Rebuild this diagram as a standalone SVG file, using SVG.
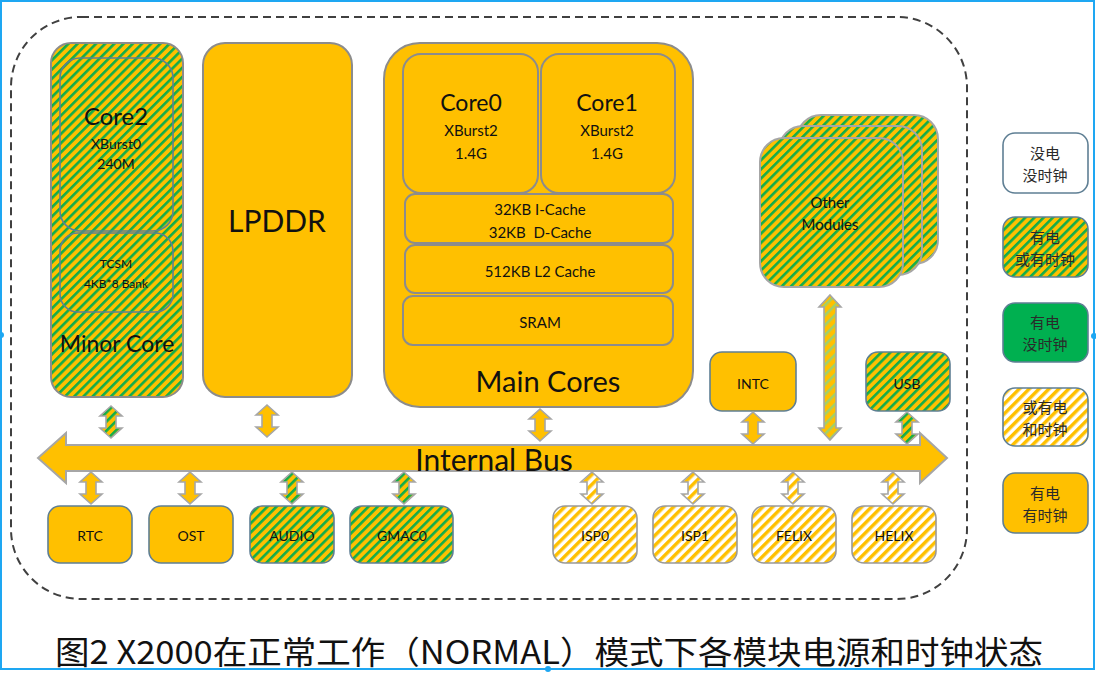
<svg xmlns="http://www.w3.org/2000/svg" xmlns:xlink="http://www.w3.org/1999/xlink" width="1096" height="673" viewBox="0 0 1096 673">
<defs>
<style>
text{font-family:Lato,"Open Sans","Noto Sans CJK SC",sans-serif;fill:#111;text-anchor:middle;dominant-baseline:central}
.cjk{font-family:"Noto Sans CJK SC","Noto Sans",sans-serif;fill:#2a2a2a;font-size:15px}
.bx{stroke:#5f7f94;stroke-width:1.6}
.gbx{stroke:#8c8c8c;stroke-width:2}
.y{fill:#FFC000}
.gy{fill:url(#gy)}
.wy{fill:url(#wy)}
.arr{stroke:#a6a6a6;stroke-width:1.6}
.s14{font-size:14px}
.s15{font-size:15px}
</style>
<pattern id="gy" patternUnits="userSpaceOnUse" width="6.5" height="6.5" patternTransform="rotate(45)">
<rect width="6.5" height="6.5" fill="#FFC000"/>
<rect width="2.6" height="6.5" fill="#12AD4A"/>
</pattern>
<pattern id="wy" patternUnits="userSpaceOnUse" width="7" height="7" patternTransform="rotate(45)">
<rect width="7" height="7" fill="#ffffff"/>
<rect width="3.5" height="7" fill="#FFC000"/>
</pattern>
<pattern id="ly" patternUnits="userSpaceOnUse" width="7" height="7" patternTransform="rotate(45)">
<rect width="7" height="7" fill="#FFC000"/>
<rect width="2.5" height="7" fill="#9FD06A"/>
</pattern>
<path id="dbl" d="M0,0 L11,10 L5,10 L5,22 L11,22 L0,32 L-11,22 L-5,22 L-5,10 L-11,10 Z"/>
</defs>

<rect x="1" y="1" width="1093" height="668" fill="#ffffff" stroke="#1EA7F2" stroke-width="2"/>
<circle cx="1" cy="335" r="3" fill="#1EA7F2"/>
<circle cx="1094" cy="336" r="3" fill="#1EA7F2"/>
<circle cx="548" cy="669" r="3" fill="#1EA7F2"/>

<rect x="11" y="17" width="956" height="582" rx="70" fill="none" stroke="#404040" stroke-width="2" stroke-dasharray="8 5"/>

<g id="minor-core">
<rect x="51" y="43" width="132" height="354" rx="20" class="gy gbx"/>
<rect x="60" y="58" width="113" height="173" rx="20" fill="none" class="bx"/>
<rect x="60" y="233" width="113" height="79" rx="18" fill="none" class="bx"/>
<text x="116" y="115" font-size="24">Core2</text>
<text x="116" y="143" class="s14">XBurst0</text>
<text x="116" y="163" class="s14">240M</text>
<text x="116" y="263" font-size="12">TCSM</text>
<text x="116" y="283" font-size="12">4KB*8 Bank</text>
<text x="117" y="343" font-size="23">Minor Core</text>
</g>

<g id="lpddr">
<rect x="203" y="43" width="149" height="354" rx="22" class="y gbx"/>
<text x="277" y="220" font-size="30">LPDDR</text>
</g>

<g id="main-cores">
<rect x="384" y="43" width="309" height="364" rx="36" class="y gbx"/>
<rect x="403" y="54" width="135" height="139" rx="18" class="y gbx" stroke-width="1.5"/>
<rect x="541" y="54" width="134" height="139" rx="18" class="y gbx" stroke-width="1.5"/>
<rect x="405" y="194" width="268" height="49" rx="10" class="y gbx" stroke-width="1.5"/>
<rect x="405" y="245" width="268" height="48" rx="10" class="y gbx" stroke-width="1.5"/>
<rect x="403" y="296" width="270" height="49" rx="10" class="y gbx" stroke-width="1.5"/>
<text x="471" y="102" font-size="23">Core0</text>
<text x="471" y="130" class="s15">XBurst2</text>
<text x="471" y="153" class="s15">1.4G</text>
<text x="607" y="102" font-size="23">Core1</text>
<text x="607" y="130" class="s15">XBurst2</text>
<text x="607" y="153" class="s15">1.4G</text>
<text x="540" y="209" class="s15">32KB I-Cache</text>
<text x="540" y="232" class="s15" xml:space="preserve">32KB  D-Cache</text>
<text x="540" y="271" class="s15">512KB L2 Cache</text>
<text x="540" y="322" class="s15">SRAM</text>
<text x="548" y="380" font-size="29">Main Cores</text>
</g>

<g id="other-modules">
<rect x="797" y="115" width="141" height="149" rx="24" class="gy" stroke="#a6a6a6" stroke-width="2"/>
<rect x="779" y="126" width="143" height="149" rx="24" class="gy" stroke="#a6a6a6" stroke-width="2"/>
<rect x="760" y="138" width="143" height="149" rx="24" class="gy" stroke="#a6a6a6" stroke-width="2"/>
<text x="830" y="202" class="s15" fill="#333">Other</text>
<text x="830" y="224" class="s15" fill="#333">Modules</text>
</g>

<g id="intc">
<rect x="710" y="352" width="86" height="59" rx="12" class="y bx"/>
<text x="753" y="383" class="s14">INTC</text>
</g>

<g id="usb">
<rect x="866" y="352" width="84" height="59" rx="12" class="gy bx"/>
<text x="907" y="383" class="s14">USB</text>
</g>

<g id="internal-bus">
<path d="M38,458 L66,433 L66,445 L920,445 L920,433 L947,458 L920,483 L920,471 L66,471 L66,483 Z" fill="#FFC000" stroke="#a6a6a6" stroke-width="2"/>
<text x="494" y="459" font-size="30">Internal Bus</text>
</g>

<g id="rtc"><rect x="48" y="506" width="84" height="57" rx="12" class="y bx"/><text x="90" y="535" class="s14">RTC</text></g>
<g id="ost"><rect x="149" y="506" width="84" height="57" rx="12" class="y bx"/><text x="191" y="535" class="s14">OST</text></g>
<g id="audio"><rect x="250" y="506" width="84" height="57" rx="12" class="gy bx"/><text x="292" y="535" class="s14">AUDIO</text></g>
<g id="gmac0"><rect x="350" y="506" width="103" height="57" rx="12" class="gy bx"/><text x="402" y="535" class="s14">GMAC0</text></g>
<g id="isp0"><rect x="553" y="506" width="84" height="57" rx="12" class="wy" stroke="#999" stroke-width="1.6"/><text x="595" y="535" class="s14">ISP0</text></g>
<g id="isp1"><rect x="653" y="506" width="84" height="57" rx="12" class="wy" stroke="#999" stroke-width="1.6"/><text x="695" y="535" class="s14">ISP1</text></g>
<g id="felix"><rect x="752" y="506" width="84" height="57" rx="12" class="wy" stroke="#999" stroke-width="1.6"/><text x="794" y="535" class="s14">FELIX</text></g>
<g id="helix"><rect x="852" y="506" width="84" height="57" rx="12" class="wy" stroke="#999" stroke-width="1.6"/><text x="894" y="535" class="s14">HELIX</text></g>

<g id="connectors">
<use xlink:href="#dbl" href="#dbl" class="gy arr" transform="translate(111,406)"/>
<use xlink:href="#dbl" href="#dbl" class="y arr" transform="translate(267,405)"/>
<use xlink:href="#dbl" href="#dbl" class="y arr" transform="translate(540,409)"/>
<use xlink:href="#dbl" href="#dbl" class="y arr" transform="translate(753,412)"/>
<use xlink:href="#dbl" href="#dbl" class="gy arr" transform="translate(907,412)"/>
<path d="M830,295 L841,307 L836,307 L836,428 L841,428 L830,440 L819,428 L824,428 L824,307 L819,307 Z" fill="url(#ly)" stroke="#a6a6a6" stroke-width="1.6"/>
<use xlink:href="#dbl" href="#dbl" class="y arr" transform="translate(91,472)"/>
<use xlink:href="#dbl" href="#dbl" class="y arr" transform="translate(190,472)"/>
<use xlink:href="#dbl" href="#dbl" class="gy arr" transform="translate(292,472)"/>
<use xlink:href="#dbl" href="#dbl" class="gy arr" transform="translate(404,472)"/>
<use xlink:href="#dbl" href="#dbl" class="wy arr" transform="translate(592,472)"/>
<use xlink:href="#dbl" href="#dbl" class="wy arr" transform="translate(693,472)"/>
<use xlink:href="#dbl" href="#dbl" class="wy arr" transform="translate(793,472)"/>
<use xlink:href="#dbl" href="#dbl" class="wy arr" transform="translate(893,472)"/>
</g>

<g id="legend-off">
<rect x="1003" y="133" width="85" height="60" rx="12" fill="#fff" class="bx"/>
<text x="1045" y="152" class="cjk">没电</text>
<text x="1045" y="174" class="cjk">没时钟</text>
</g>
<g id="legend-gy">
<rect x="1003" y="217" width="85" height="60" rx="12" class="gy bx"/>
<text x="1045" y="236" class="cjk">有电</text>
<text x="1045" y="258" class="cjk">或有时钟</text>
</g>
<g id="legend-green">
<rect x="1003" y="303" width="85" height="59" rx="12" fill="#00B050" class="bx"/>
<text x="1045" y="321" class="cjk">有电</text>
<text x="1045" y="343" class="cjk">没时钟</text>
</g>
<g id="legend-wy">
<rect x="1003" y="388" width="85" height="58" rx="12" class="wy bx"/>
<text x="1045" y="406" class="cjk">或有电</text>
<text x="1045" y="428" class="cjk">和时钟</text>
</g>
<g id="legend-y">
<rect x="1003" y="473" width="85" height="60" rx="12" class="y bx"/>
<text x="1045" y="492" class="cjk">有电</text>
<text x="1045" y="514" class="cjk">有时钟</text>
</g>

<text x="549" y="650" font-size="32" fill="#111" textLength="988" lengthAdjust="spacingAndGlyphs" style="font-family:'Noto Sans CJK SC',sans-serif">图2 X2000在正常工作（NORMAL）模式下各模块电源和时钟状态</text>
</svg>
